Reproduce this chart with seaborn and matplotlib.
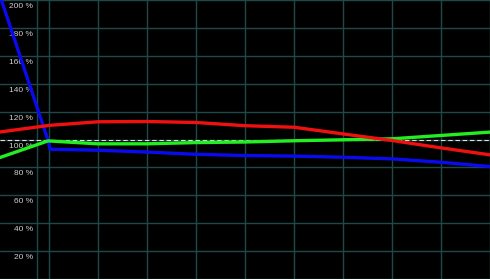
import matplotlib
matplotlib.use("Agg")
import matplotlib.pyplot as plt
import matplotlib.transforms as mtransforms
import seaborn as sns
import pandas as pd

# ---- data ----
x_red = [0, 1, 2, 3, 4, 5, 6, 7, 8, 9, 10]
red = [105.4, 110.1, 112.7, 112.9, 112.2, 109.9, 108.8, 104.0, 99.3, 94.0, 89.0]

x_green = [0, 0.98, 2, 3, 4, 5, 6, 7, 8, 9, 10]
green = [87.1, 99.0, 96.9, 96.9, 97.8, 98.2, 99.1, 99.8, 100.5, 102.9, 105.3]

x_blue = [0, 0.98, 1.02, 2, 3, 4, 5, 6, 7, 8, 9, 10]
blue = [203.0, 99.5, 93.0, 92.3, 91.0, 89.4, 88.5, 88.1, 87.3, 86.1, 83.7, 80.6]

y_ticks = [0, 20, 40, 60, 80, 100, 120, 140, 160, 180, 200]
y_labels = ["", "20 %", "40 %", "60 %", "80 %", "100 %", "120 %", "140 %",
            "160 %", "180 %", "200 %"]
x_grid = [0.755, 1, 2, 3, 4, 5, 6, 7, 8, 9, 10]
reference_level = 100

series_names = ["blue", "green", "red"]
palette = {"blue": "#0a0aee", "green": "#22ee22", "red": "#f01010"}

df = pd.concat([
    pd.DataFrame({"x": x_blue, "y": blue, "s": "blue"}),
    pd.DataFrame({"x": x_green, "y": green, "s": "green"}),
    pd.DataFrame({"x": x_red, "y": red, "s": "red"}),
], ignore_index=True)

sns.set_style("dark")
plt.rcParams["font.family"] = ["Liberation Sans", "DejaVu Sans"]

fig = plt.figure(figsize=(4.9, 2.79), dpi=100, facecolor="black")
ax = fig.add_axes([0, 0, 1, 1])
ax.set_facecolor("black")

grid_color = "#1f4848"
ax.set_xlim(0, 10)
ax.set_ylim(0, 200)
ax.set_xticks(x_grid)
ax.set_xticklabels([])
ax.set_yticks(y_ticks)
ax.set_yticklabels(y_labels)
ax.grid(True, color=grid_color, linewidth=1.0)
ax.set_axisbelow(True)
for sp in ax.spines.values():
    sp.set_visible(False)

ax.axhline(reference_level, color="#e0e0e0", linewidth=0.8,
           linestyle=(0, (4, 2.5)), zorder=1.5)

sns.lineplot(data=df, x="x", y="y", hue="s", hue_order=series_names,
             palette=palette, linewidth=2.4, legend=False, sort=False,
             estimator=None, ax=ax, zorder=3)

ax.set_xlabel("")
ax.set_ylabel("")
ax.tick_params(axis="x", length=0)
ax.tick_params(axis="y", length=0, direction="in", pad=-24,
               labelsize=6, labelcolor="#d0d0d0")
offset = mtransforms.ScaledTranslation(0, -5.5 / 100, fig.dpi_scale_trans)
for lab in ax.get_yticklabels():
    lab.set_horizontalalignment("right")
    lab.set_transform(lab.get_transform() + offset)
    lab.set_zorder(5)

fig.savefig("out.png", dpi=100, facecolor="black")
